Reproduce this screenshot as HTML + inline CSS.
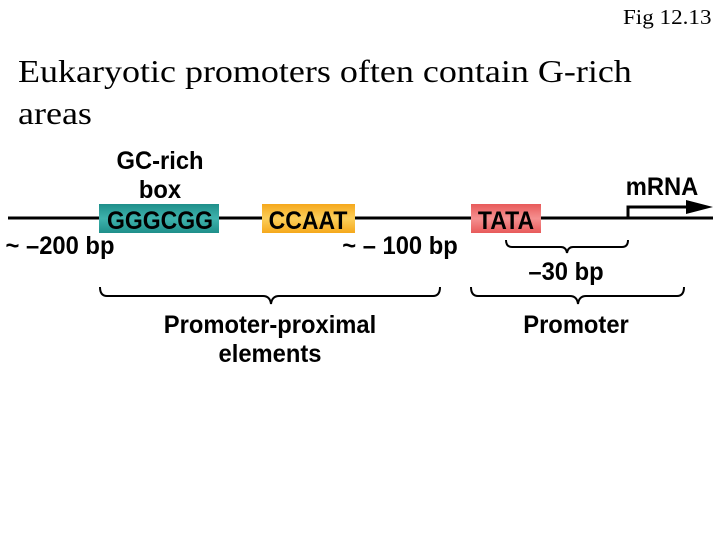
<!DOCTYPE html>
<html><head><meta charset="utf-8"><style>
body{margin:0;width:720px;height:540px;background:#fff;overflow:hidden;position:relative;font-family:"Liberation Serif",serif}
.t{position:absolute;color:#000;white-space:nowrap}
</style></head><body>
<div class="t" style="right:8px;top:5px;font-size:21px;transform:scaleX(1.1);transform-origin:right">Fig 12.13</div>
<div class="t" style="left:18px;top:50px;font-size:32px;line-height:42px;transform:scaleX(1.125);transform-origin:left top">Eukaryotic promoters often contain G-rich<br>areas</div>
<svg width="720" height="540" style="position:absolute;left:0;top:0" font-family="'Liberation Sans',sans-serif" font-weight="bold">
<defs>
<linearGradient id="g1" x1="0" y1="0" x2="0" y2="1"><stop offset="0" stop-color="#1f8f8a"/><stop offset="0.5" stop-color="#3fb3ad"/><stop offset="1" stop-color="#1f8f8a"/></linearGradient>
<linearGradient id="g2" x1="0" y1="0" x2="0" y2="1"><stop offset="0" stop-color="#f5a81c"/><stop offset="0.5" stop-color="#fccf5a"/><stop offset="1" stop-color="#f5a81c"/></linearGradient>
<linearGradient id="g3" x1="0" y1="0" x2="0" y2="1"><stop offset="0" stop-color="#e85a5a"/><stop offset="0.5" stop-color="#f59090"/><stop offset="1" stop-color="#e85a5a"/></linearGradient>
</defs>
<line x1="8" y1="218" x2="713" y2="218" stroke="#000" stroke-width="3"/>
<rect x="99" y="204" width="120" height="29" fill="url(#g1)"/>
<rect x="262" y="204" width="93" height="29" fill="url(#g2)"/>
<rect x="471" y="204" width="70" height="29" fill="url(#g3)"/>
<g font-size="25" text-anchor="middle">
<g transform="translate(160,229) scale(0.92,1)"><text>GGGCGG</text></g>
<g transform="translate(308,229) scale(0.92,1)"><text>CCAAT</text></g>
<g transform="translate(506,229) scale(0.92,1)"><text>TATA</text></g>
<g transform="translate(160,169) scale(0.95,1)"><text>GC-rich</text></g>
<g transform="translate(160,198) scale(0.95,1)"><text>box</text></g>
<g transform="translate(662,195) scale(0.95,1)"><text>mRNA</text></g>
<g transform="translate(60,254) scale(0.95,1)"><text>~ –200 bp</text></g>
<g transform="translate(400,254) scale(0.95,1)"><text>~ – 100 bp</text></g>
<g transform="translate(566,280) scale(0.95,1)"><text>–30 bp</text></g>
<g transform="translate(270,333) scale(0.95,1)"><text>Promoter-proximal</text></g>
<g transform="translate(270,362) scale(0.95,1)"><text>elements</text></g>
<g transform="translate(576,333) scale(0.95,1)"><text>Promoter</text></g>
</g>
<path d="M628 218 V207 H690" fill="none" stroke="#000" stroke-width="3"/>
<polygon points="686,200 713,207 686,214" fill="#000"/>
<g fill="none" stroke="#000" stroke-width="2">
<path d="M506 240 q0 7 6 7 H561 q5 0 6 6 q1 -6 6 -6 H622 q6 0 6 -7"/>
<path d="M100 287 q0 9 7 9 H263 q7 0 8 8 q1 -8 8 -8 H433 q7 0 7 -9"/>
<path d="M471 287 q0 9 7 9 H570 q7 0 8 8 q1 -8 8 -8 H677 q7 0 7 -9"/>
</g>
</svg>
</body></html>
